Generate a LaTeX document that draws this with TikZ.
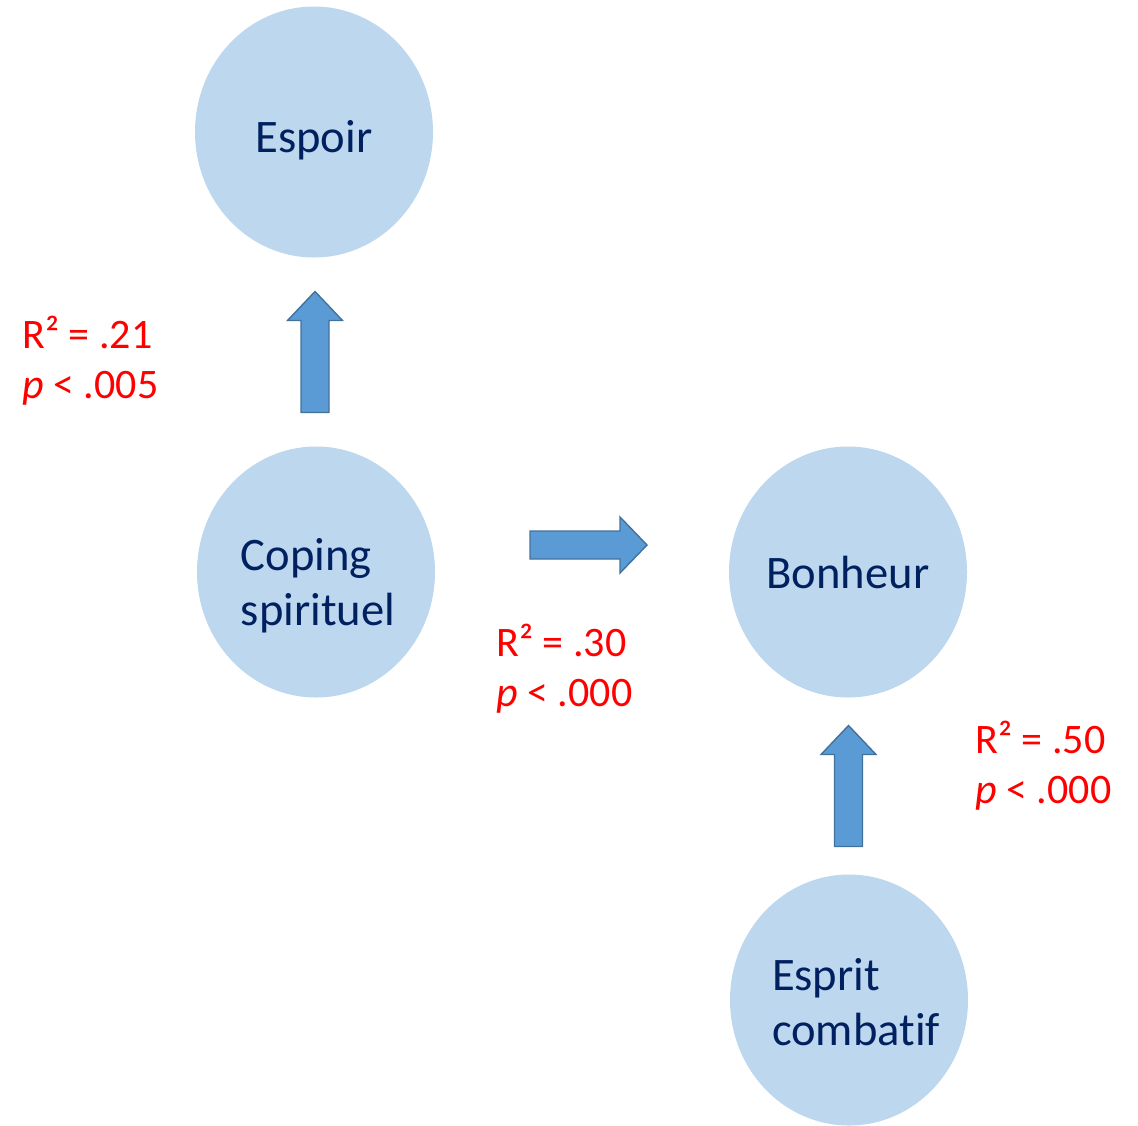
\documentclass[tikz,border=0pt]{standalone}
\usepackage{fontspec}
\setmainfont{Carlito}[Ligatures=CommonOff]
\usetikzlibrary{shapes.geometric, calc}

\definecolor{circfill}{HTML}{BDD7EE}
\definecolor{navy}{HTML}{002060}
\definecolor{arrfill}{HTML}{5B9BD5}
\definecolor{arrdraw}{HTML}{41719C}

\begin{document}
\begin{tikzpicture}[x=0.5pt, y=-0.5pt,
    var/.style={ellipse, fill=circfill, minimum width=119pt, minimum height=125.5pt, inner sep=0pt},
    vtext/.style={inner sep=0pt, text=navy, font=\fontsize{23.3}{27.5}\selectfont, align=left},
    stat/.style={anchor=west, inner sep=0pt, text=red, font=\fontsize{21}{25}\selectfont, align=left},
    blockarrow/.style={fill=arrfill, draw=arrdraw, line width=0.7pt, line join=miter}]
    \useasboundingbox (0,0) rectangle (1138,1125);

    \node[var, label={[vtext, yshift=-4pt]center:Espoir}] (espoir) at (314,132) {};
    \node[var, label={[vtext, yshift=-7pt, xshift=1pt]center:Coping\\spirituel}] (coping) at (316,572) {};
    \node[var, label={[vtext]center:Bonheur}] (bonheur) at (848,572) {};
    \node[var, label={[vtext, yshift=-1pt, xshift=3.5pt]center:Esprit\\combatif}] (esprit) at (849,1000) {};

    \coordinate (a1) at ($(espoir.south)!0.5!(coping.north)$);
    \coordinate (a2) at (588.5,545);
    \coordinate (a3) at ($(bonheur.south)!0.5!(esprit.north)$);

    % block arrows
    \draw[blockarrow] (a1) ++(-14,60.5) -- ++(28,0) -- ++(0,-92) -- ++(13.5,0) -- ++(-27.5,-29) -- ++(-27.5,29) -- ++(13.5,0) -- cycle;
    \draw[blockarrow] (a2) ++(-58.5,14) -- ++(90,0) -- ++(0,14) -- ++(27,-28) -- ++(-27,-28) -- ++(0,14) -- ++(-90,0) -- cycle;
    \draw[blockarrow] (a3) ++(-14,60.5) -- ++(28,0) -- ++(0,-92) -- ++(13.5,0) -- ++(-27.5,-29) -- ++(-27.5,29) -- ++(13.5,0) -- cycle;

    \node[stat] (r1) at (22,361) {R² = .21\\\textit{p} < .005};
    \node[stat] (r2) at (496,669) {R² = .30\\\textit{p} < .000};
    \node[stat] (r3) at (975,766) {R² = .50\\\textit{p} < .000};
\end{tikzpicture}
\end{document}
